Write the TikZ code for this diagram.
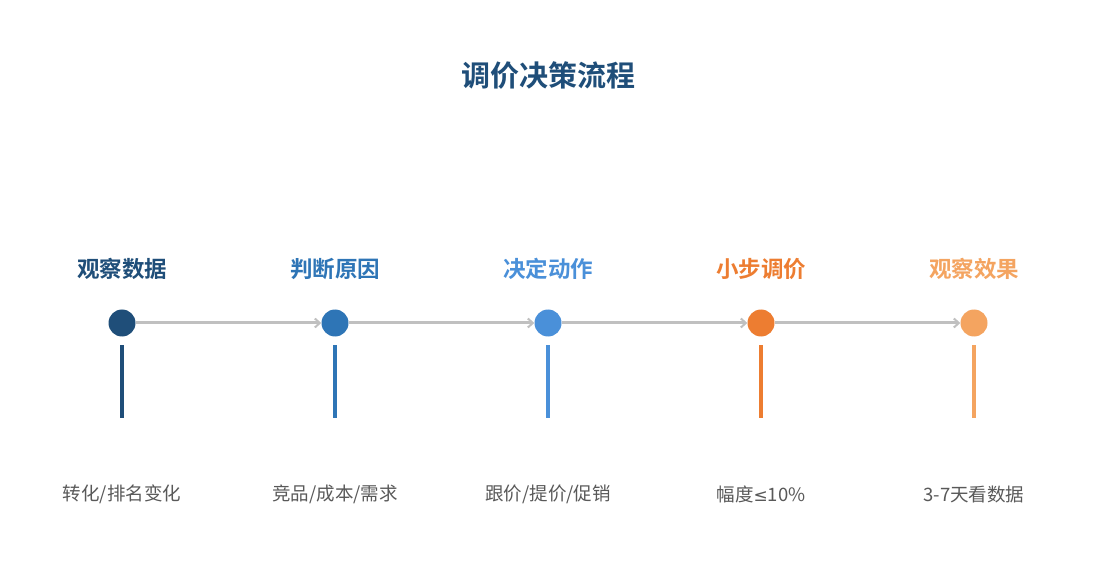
\documentclass[tikz,border=0pt]{standalone}
\usepackage{fontspec}
\setmainfont{Noto Sans CJK SC}
\newfontfamily\cjkbold{Noto Sans CJK SC Bold}
\newfontfamily\symfont{DejaVu Sans}
\usetikzlibrary{arrows.meta}
\definecolor{cA}{HTML}{1F4E79}
\definecolor{cB}{HTML}{2E75B6}
\definecolor{cC}{HTML}{4A90D9}
\definecolor{cD}{HTML}{ED7D31}
\definecolor{cE}{HTML}{F4A460}
\definecolor{arrowgray}{HTML}{C0C0C0}
\definecolor{txtgray}{HTML}{595959}
\tikzset{
  dot/.style={circle, fill=#1, minimum size=27pt, inner sep=0pt},
  steplabel/.style={text=#1, font=\cjkbold\fontsize{22.5pt}{24pt}\selectfont, anchor=center},
  desc/.style={text=txtgray, font=\fontsize{18.5pt}{20pt}\selectfont, anchor=center},
  flow/.style={draw=arrowgray, line width=3pt, -{Straight Barb[length=5pt,width=9pt,line width=2pt]}},
  stem/.style={draw=#1, line width=3.5pt},
}
\begin{document}
\begin{tikzpicture}[x=1pt,y=-1pt]
\useasboundingbox[fill=white] (0,0) rectangle (1095,585);
\node[text=cA, font=\cjkbold\fontsize{29pt}{31pt}\selectfont] (title) at (548,75) {调价决策流程};
\foreach \i/\x/\c/\t/\d in {1/122/cA/观察数据/{转化/排名变化}, 2/335/cB/判断原因/{竞品/成本/需求}, 3/548/cC/决定动作/{跟价/提价/促销}, 4/761/cD/小步调价/{幅度{\symfont\fontsize{17pt}{20pt}\selectfont ≤}10\%}, 5/974/cE/观察效果/{3-7天看数据}}{
  \node[dot=\c] (n\i) at (\x,323) {};
  \node[steplabel=\c] (l\i) at (\x,269) {\t};
  \coordinate (s\i a) at (\x,345);
  \coordinate (s\i b) at (\x,418);
  \draw[stem=\c] (s\i a) -- (s\i b);
  \node[desc] (d\i) at (\x,494) {\d};
}
\foreach \a/\b in {1/2,2/3,3/4,4/5}{
  \draw[flow] (n\a) -- (n\b);
}
\end{tikzpicture}
\end{document}
